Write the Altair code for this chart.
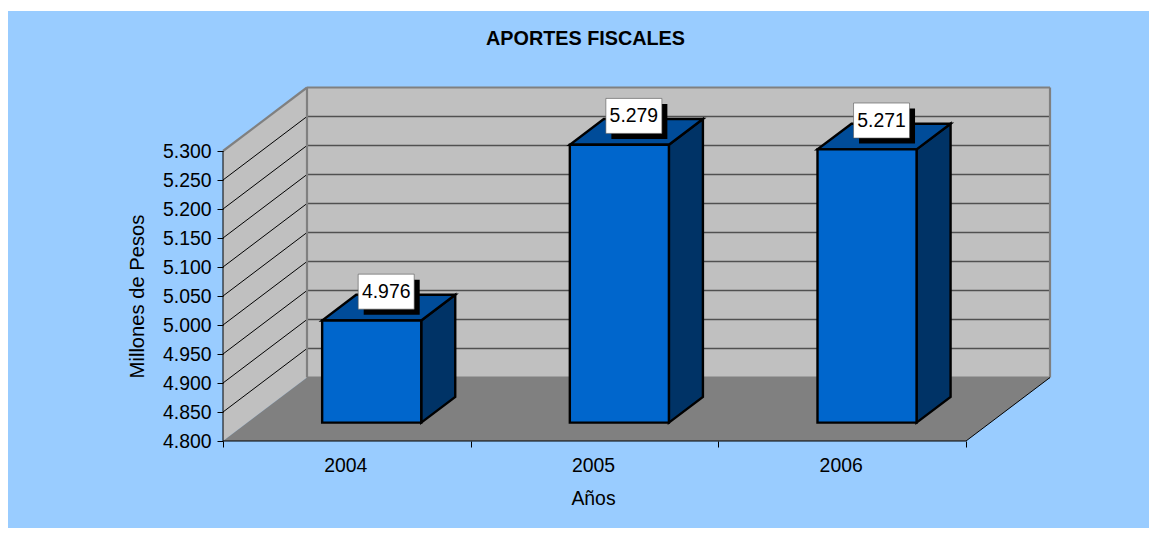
import altair as alt
import pandas as pd

# --- chart data ---
YEARS = ["2004", "2005", "2006"]
VALUES = [4976, 5279, 5271]
Y_TICKS = [4800, 4850, 4900, 4950, 5000, 5050, 5100, 5150, 5200, 5250, 5300]
TITLE = "APORTES FISCALES"
X_TITLE = "Años"
Y_TITLE = "Millones de Pesos"

# --- oblique-projection geometry ---
FONT = "Liberation Sans"
FS = 19.4
PLOT_W, PLOT_H = 828, 354
CAT_PX = 247.67
VAL_PX = 0.58
DEPTH_X = 84 / CAT_PX        # category units per full depth
DEPTH_Y = 63.5 / VAL_PX      # value units per full depth
Y0, Y1 = Y_TICKS[0], Y_TICKS[-1]
N = len(YEARS)
BAR_L, BAR_R = 0.302, 0.702  # bar extent inside a category
D0, D1 = 0.29, 0.695         # bar extent in depth


def P(x, v, d=0.0):
    return x + DEPTH_X * d, v + DEPTH_Y * d


year_expr = "[" + ",".join(f"'{y}'" for y in YEARS) + ",''][datum.value]"
x_axis = alt.Axis(
    values=list(range(N + 1)),
    labelExpr=year_expr,
    labelOffset=CAT_PX / 2 - 1.5,
    labelFlush=False,
    labelOverlap=False,
    labelFont=FONT,
    labelFontSize=FS,
    labelColor="#000000",
    labelPadding=9,
    tickSize=6,
    tickColor="#000000",
    domain=False,
    grid=False,
    zindex=1,
    titleFont=FONT,
    titleFontSize=FS,
    titleFontWeight="normal",
    titleColor="#000000",
    titleX=370,
    titleY=57,
    titleAlign="center",
    titleBaseline="middle",
)
y_axis = alt.Axis(
    values=Y_TICKS,
    labelExpr="replace(format(datum.value, ','), ',', '.')",
    labelFont=FONT,
    labelFontSize=FS,
    labelColor="#000000",
    labelPadding=6,
    labelOverlap=False,
    tickSize=6,
    tickColor="#000000",
    domain=False,
    grid=False,
    zindex=1,
    titleFont=FONT,
    titleFontSize=20.2,
    titleFontWeight="normal",
    titleColor="#000000",
    titleX=-86,
    titleY=209,
    titleAlign="center",
    titleBaseline="middle",
    titleAngle=270,
)
xs = alt.Scale(domain=[0, PLOT_W / CAT_PX], nice=False, zero=False)
ys = alt.Scale(domain=[Y0, Y0 + PLOT_H / VAL_PX], nice=False, zero=False)
X = lambda f="x": alt.X(f"{f}:Q", scale=xs, axis=x_axis, title=X_TITLE)
Y = lambda f="y": alt.Y(f"{f}:Q", scale=ys, axis=y_axis, title=Y_TITLE)
X2 = alt.X2("x2:Q")
Y2 = alt.Y2("y2:Q")


def segs(rows):
    return pd.DataFrame(
        [{"x": a[0], "y": a[1], "x2": b[0], "y2": b[1]} for a, b in rows]
    )


backdrop = (
    alt.Chart(pd.DataFrame({"a": [0]}))
    .mark_rect(fill="#99CCFF")
    .encode(x=alt.value(-215), x2=alt.value(934), y=alt.value(-76), y2=alt.value(449))
)

# back wall
bx, by = P(0, Y0, 1)
tx, ty = P(N, Y1, 1)
back_wall = (
    alt.Chart(pd.DataFrame([{"x": bx, "x2": tx, "y": by, "y2": ty}]))
    .mark_rect(fill="#C0C0C0")
    .encode(x=X(), x2=X2, y=Y(), y2=Y2)
)

# side wall
side_df = pd.DataFrame(
    [
        {"x": P(0, Y0, d)[0], "y": P(0, Y0, d)[1], "y2": P(0, Y1, d)[1]}
        for d in (0, 1)
    ]
)
side_wall = (
    alt.Chart(side_df)
    .mark_area(fill="#C0C0C0", orient="vertical")
    .encode(x=X(), y=Y(), y2=Y2)
)

# floor
floor_df = pd.DataFrame(
    [
        {"y": P(0, Y0, d)[1], "x": P(0, Y0, d)[0], "x2": P(N, Y0, d)[0]}
        for d in (0, 1)
    ]
)
floor = (
    alt.Chart(floor_df)
    .mark_area(fill="#808080", orient="horizontal")
    .encode(y=Y(), x=X(), x2=X2)
)

inner = Y_TICKS[1:-1]
back_grid = (
    alt.Chart(segs([(P(0, v, 1), P(N, v, 1)) for v in inner]))
    .mark_rule(stroke="#505050", strokeWidth=1.4)
    .encode(x=X(), x2=X2, y=Y(), y2=Y2)
)
side_grid = (
    alt.Chart(segs([(P(0, v, 0), P(0, v, 1)) for v in inner]))
    .mark_rule(stroke="#000000", strokeWidth=1)
    .encode(x=X(), x2=X2, y=Y(), y2=Y2)
)
wall_edges = (
    alt.Chart(
        segs(
            [
                (P(0, Y1, 0), P(0, Y1, 1)),
                (P(0, Y1, 1), P(N, Y1, 1)),
                (P(0, Y0, 1), P(0, Y1, 1)),
                (P(N, Y0, 1), P(N, Y1, 1)),
                (P(0, Y0, 1), P(N, Y0, 1)),
            ]
        )
    )
    .mark_rule(stroke="#808080", strokeWidth=2.2)
    .encode(x=X(), x2=X2, y=Y(), y2=Y2)
)
axis_lines = (
    alt.Chart(
        segs(
            [
                (P(0, Y0), P(N, Y0)),
                (P(0, Y0), P(0, Y1)),
                (P(N, Y0), P(N, Y0, 1)),
            ]
        )
    )
    .mark_rule(stroke="#000000", strokeWidth=1)
    .encode(x=X(), x2=X2, y=Y(), y2=Y2)
)

# bars
front_rows, side_rows, top_rows, lab_rows = [], [], [], []
for i, (yr, v) in enumerate(zip(YEARS, VALUES)):
    xl, xr = i + BAR_L, i + BAR_R
    a = P(xl, Y0, D0)
    b = P(xr, v, D0)
    front_rows.append({"x": a[0], "x2": b[0], "y": a[1], "y2": b[1]})
    for d in (D0, D1):
        side_rows.append(
            {"bar": yr, "x": P(xr, Y0, d)[0], "y": P(xr, Y0, d)[1], "y2": P(xr, v, d)[1]}
        )
        top_rows.append(
            {"bar": yr, "y": P(xl, v, d)[1], "x": P(xl, v, d)[0], "x2": P(xr, v, d)[0]}
        )
    c = P((xl + xr) / 2, v, (D0 + D1) / 2)
    lab_rows.append(
        {"x": c[0], "y": c[1], "label": f"{v:,}".replace(",", ".")}
    )

STROKE = dict(stroke="#000000", strokeWidth=2.4, strokeJoin="miter")
bar_front = (
    alt.Chart(pd.DataFrame(front_rows))
    .mark_rect(fill="#0066CC", **STROKE)
    .encode(x=X(), x2=X2, y=Y(), y2=Y2)
)
bar_side = (
    alt.Chart(pd.DataFrame(side_rows))
    .mark_area(fill="#003366", orient="vertical", **STROKE)
    .encode(x=X(), y=Y(), y2=Y2, detail="bar:N")
)
bar_top = (
    alt.Chart(pd.DataFrame(top_rows))
    .mark_area(fill="#004C99", orient="horizontal", **STROKE)
    .encode(y=Y(), x=X(), x2=X2, detail="bar:N")
)

# value labels
lab_df = pd.DataFrame(lab_rows)
lab_shadow = (
    alt.Chart(lab_df)
    .mark_rect(fill="#000000", width=56, height=35, xOffset=3, yOffset=-10.5)
    .encode(x=X(), y=Y())
)
lab_box = (
    alt.Chart(lab_df)
    .mark_rect(
        fill="#FFFFFF", stroke="#555555", strokeWidth=0.6,
        width=56, height=35, xOffset=-2.5, yOffset=-16,
    )
    .encode(x=X(), y=Y())
)
lab_text = (
    alt.Chart(lab_df)
    .mark_text(font=FONT, fontSize=FS, color="#000000", align="center",
               baseline="middle", dx=-2.5, dy=-15.5)
    .encode(x=X(), y=Y(), text="label:N")
)

chart = (
    alt.layer(
        backdrop,
        back_wall,
        side_wall,
        floor,
        back_grid,
        side_grid,
        wall_edges,
        axis_lines,
        bar_side,
        bar_top,
        bar_front,
        lab_shadow,
        lab_box,
        lab_text,
    )
    .properties(
        width=PLOT_W,
        height=PLOT_H,
        padding={"left": 215, "top": 79, "right": 98, "bottom": 87},
        autosize=alt.AutoSizeParams(type="none"),
        title=alt.TitleParams(
            TITLE,
            font=FONT,
            fontSize=19.8,
            fontWeight="bold",
            color="#000000",
            anchor="middle",
            frame="group",
            dx=-51.5,
            offset=-38,
            zindex=1,
        ),
    )
    .configure_view(stroke=None)
)

chart.save("out.html", embed_options={"renderer": "svg", "actions": False})
